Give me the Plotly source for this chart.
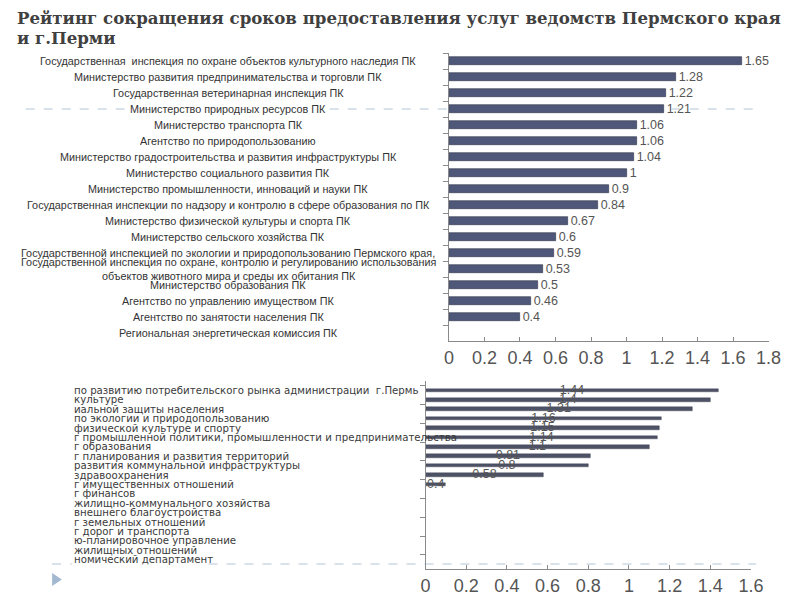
import plotly.graph_objects as go

W, H = 800, 600

title_lines = ["Рейтинг сокращения сроков предоставления услуг ведомств Пермского края", "и г.Перми"]

top_categories = [
    "Государственная  инспекция по охране объектов культурного наследия ПК",
    "Министерство развития предпринимательства и торговли ПК",
    "Государственная ветеринарная инспекция ПК",
    "Министерство природных ресурсов ПК",
    "Министерство транспорта ПК",
    "Агентство по природопользованию",
    "Министерство градостроительства и развития инфраструктуры ПК",
    "Министерство социального развития ПК",
    "Министерство промышленности, инноваций и науки ПК",
    "Государственная инспекции по надзору и контролю в сфере образования по ПК",
    "Министерство физической культуры и спорта ПК",
    "Министерство сельского хозяйства ПК",
    "Государственной инспекцией по экологии и природопользованию Пермского края,",
    "Государственной инспекция по охране, контролю и регулированию использования<br>объектов животного мира и среды их обитания ПК",
    "Министерство образования ПК",
    "Агентство по управлению имуществом ПК",
    "Агентство по занятости населения ПК",
    "Региональная энергетическая комиссия ПК",
]
top_values = [1.65, 1.28, 1.22, 1.21, 1.06, 1.06, 1.04, 1, 0.9, 0.84, 0.67, 0.6, 0.59, 0.53, 0.5, 0.46, 0.4, None]
top_labels = ["1.65", "1.28", "1.22", "1.21", "1.06", "1.06", "1.04", "1", "0.9", "0.84", "0.67", "0.6", "0.59", "0.53", "0.5", "0.46", "0.4", ""]

bottom_categories = [
    "по развитию потребительского рынка администрации  г.Пермь",
    "культуре",
    "иальной защиты населения",
    "по экологии и природопользованию",
    "физической культуре и спорту",
    "г промышленной политики, промышленности и предпринимательства",
    "г образования",
    "г планирования и развития территорий",
    "развития коммунальной инфраструктуры",
    "здравоохранения",
    "г имущественных отношений",
    "г финансов",
    "жилищно-коммунального хозяйства",
    "внешнего благоустройства",
    "г земельных отношений",
    "г дорог и транспорта",
    "ю-планировочное управление",
    "жилищных отношений",
    "номический департамент",
]
bottom_values = [1.44, 1.4, 1.31, 1.16, 1.15, 1.14, 1.1, 0.81, 0.8, 0.58, 0.1] + [None] * 8
bottom_labels = ["1.44", "1.4", "1.31", "1.16", "1.15", "1.14", "1.1", "0.81", "0.8", "0.58", "0.4"] + [""] * 8

top_ticks = [0, 0.2, 0.4, 0.6, 0.8, 1, 1.2, 1.4, 1.6, 1.8]
bottom_ticks = [0, 0.2, 0.4, 0.6, 0.8, 1, 1.2, 1.4, 1.6]


def px(x):
    return x / W


def py(y):
    return 1 - y / H


fig = go.Figure()

fig.add_trace(go.Bar(
    x=top_values, y=top_categories, orientation="h",
    marker=dict(color="#4f5879", line=dict(color="#2c3045", width=0.6)),
    width=0.55,
    text=top_labels, textposition="outside", cliponaxis=False, constraintext="none",
    textfont=dict(family="Liberation Sans", size=12.5, color="#555555"),
    xaxis="x", yaxis="y", hoverinfo="skip",
))

fig.add_trace(go.Bar(
    x=bottom_values, y=bottom_categories, orientation="h",
    marker=dict(color="#4e5266", line=dict(color="#3a3d4c", width=0.4)),
    width=0.38,
    xaxis="x2", yaxis="y2", hoverinfo="skip",
))

fig.add_trace(go.Scatter(
    x=[v / 2 if v is not None else None for v in bottom_values],
    y=bottom_categories, mode="text", text=bottom_labels,
    textfont=dict(family="Liberation Sans", size=12.5, color="#555555"),
    xaxis="x2", yaxis="y2", hoverinfo="skip", cliponaxis=False,
))

axis_common = dict(showgrid=False, zeroline=False, showline=True, linecolor="#8a8a8a", linewidth=1)

annotations = []
# title
for i, t in enumerate(title_lines):
    annotations.append(dict(
        text="<b>" + t + "</b>", x=px(2), y=py(10 + 20 * i), xref="paper", yref="paper",
        xanchor="left", yanchor="middle", showarrow=False,
        font=dict(family="DejaVu Serif", size=16.6, color="#404040"),
    ))

for c in top_categories:
    annotations.append(dict(
        text=c, x=px(220), y=c, xref="paper", yref="y",
        xanchor="center", yanchor="middle", align="center", showarrow=False,
        font=dict(family="Liberation Sans", size=10.8, color="#333333"),
    ))

for c in bottom_categories:
    annotations.append(dict(
        text=c, x=px(60), y=c, xref="paper", yref="y2",
        xanchor="left", yanchor="middle", align="left", showarrow=False,
        font=dict(family="DejaVu Sans", size=10.2, color="#3a3a3a"),
    ))

dash_col = "#b4c4d6"
shapes = [
    dict(type="line", xref="paper", yref="paper", x0=px(13), x1=px(118), y0=py(101), y1=py(101),
         line=dict(color=dash_col, width=1, dash="dash"), layer="below"),
    dict(type="line", xref="paper", yref="paper", x0=px(324), x1=px(760), y0=py(101), y1=py(101),
         line=dict(color=dash_col, width=1, dash="dash"), layer="below"),
    dict(type="line", xref="paper", yref="paper", x0=px(40), x1=px(60), y0=py(556), y1=py(556),
         line=dict(color=dash_col, width=1, dash="dash"), layer="below"),
    dict(type="line", xref="paper", yref="paper", x0=px(200), x1=px(760), y0=py(556), y1=py(556),
         line=dict(color=dash_col, width=1, dash="dash"), layer="below"),
    dict(type="path", xref="paper", yref="paper",
         path=f"M {px(40)} {py(565)} L {px(50)} {py(571.5)} L {px(40)} {py(578)} Z",
         fillcolor="#a3b9d1", line=dict(width=0)),
]

fig.update_layout(
    width=W, height=H, margin=dict(l=0, r=0, t=0, b=0),
    paper_bgcolor="white", plot_bgcolor="rgba(0,0,0,0)",
    showlegend=False, bargap=0,
    xaxis=dict(**axis_common, domain=[px(446), px(773)], range=[0, 1.8],
               tickvals=top_ticks, ticks="inside", ticklen=4, tickcolor="#8a8a8a",
               tickfont=dict(family="Liberation Sans", size=18, color="#555555"), anchor="y"),
    yaxis=dict(**axis_common, domain=[py(333), py(45)], autorange="reversed", type="category",
               showticklabels=False, ticks="outside", ticklen=5, tickcolor="#8a8a8a",
               tickson="boundaries", anchor="x"),
    xaxis2=dict(**axis_common, domain=[px(422), px(755)], range=[0, 1.6],
                tickvals=bottom_ticks, ticks="inside", ticklen=4, tickcolor="#8a8a8a",
                tickfont=dict(family="Liberation Sans", size=18, color="#555555"), anchor="y2"),
    yaxis2=dict(**axis_common, domain=[py(561), py(373)], autorange="reversed", type="category",
                showticklabels=False, ticks="outside", ticklen=5, tickcolor="#8a8a8a",
                tickson="boundaries", anchor="x2"),
    annotations=annotations, shapes=shapes,
)

fig.write_html("out.html")
